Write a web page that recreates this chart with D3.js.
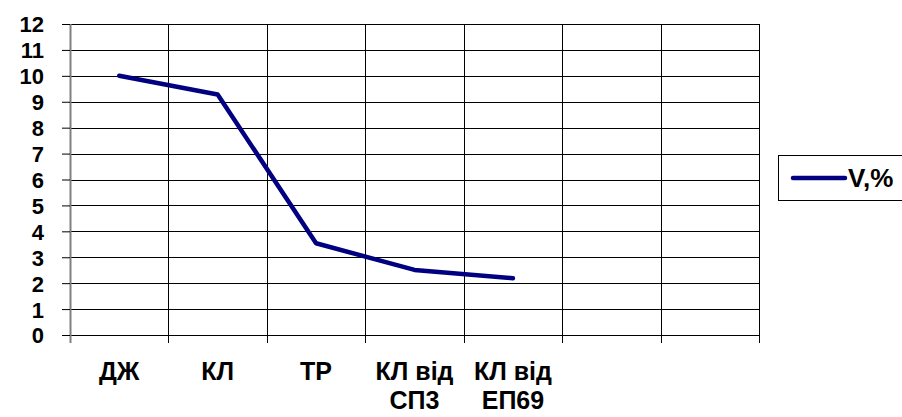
<!DOCTYPE html>
<html><head><meta charset="utf-8">
<script src="https://cdn.jsdelivr.net/npm/d3@7"></script>
<style>html,body{margin:0;padding:0;background:#fff;}svg{display:block;}</style>
</head><body>
<svg id="c" width="902" height="417"></svg>
<script>
const categories = ["ДЖ", "КЛ", "ТР", "КЛ від|СП3", "КЛ від|ЕП69", "_e1", "_e2"];
const values = [10, 9.28, 3.54, 2.51, 2.19];
const yTicks = [0,1,2,3,4,5,6,7,8,9,10,11,12];
const seriesName = "V,%";

const svg = d3.select("#c");
const L = 70, R = 759, T = 24, B = 335;
const font = "'Liberation Sans', Arial, sans-serif";

const x = d3.scaleBand().domain(categories).range([L, R]).padding(0);
const y = d3.scaleLinear().domain([0, 12]).range([B, T]);

// horizontal gridlines
svg.append("g").selectAll("line").data(yTicks).join("line")
  .attr("x1", L).attr("x2", R)
  .attr("y1", d => Math.round(y(d)) + 0.5).attr("y2", d => Math.round(y(d)) + 0.5)
  .attr("stroke", "#000").attr("stroke-width", 1);

// vertical gridlines at category boundaries
const bounds = categories.map(c => x(c)).concat([R]);
svg.append("g").selectAll("line").data(bounds.slice(1)).join("line")
  .attr("x1", d => Math.round(d) + 0.5).attr("x2", d => Math.round(d) + 0.5)
  .attr("y1", T).attr("y2", B + 8)
  .attr("stroke", "#000").attr("stroke-width", 1);

// y axis
const yAxis = svg.append("g").attr("transform", `translate(${L},0)`)
  .call(d3.axisLeft(y).tickValues(yTicks).tickSize(8).tickPadding(18).tickFormat(d3.format("d")));
yAxis.select(".domain").attr("stroke", "#808080").attr("stroke-width", 2).attr("d", `M0.5,${T}V${B + 8}`);
yAxis.selectAll(".tick line").attr("stroke", "#000");
yAxis.selectAll(".tick text").attr("font-family", font).attr("font-weight", "bold")
  .attr("font-size", 22).attr("fill", "#000").attr("dy", "0.36em");

// x axis labels
const xAxis = svg.append("g").attr("transform", `translate(0,${B})`)
  .call(d3.axisBottom(x).tickSize(0).tickFormat(""));
xAxis.select(".domain").remove();
xAxis.selectAll(".tick").each(function(d) {
  if (d.startsWith("_")) return;
  const t = d3.select(this).append("text")
    .attr("font-family", font).attr("font-weight", "bold").attr("font-size", 25)
    .attr("fill", "#000").attr("text-anchor", "middle");
  d.split("|").forEach((line, i) => {
    t.append("tspan").attr("x", 0).attr("y", 45 + i * 29).text(line);
  });
});

// line
const line = d3.line().x((d, i) => x(categories[i]) + x.bandwidth() / 2).y(d => y(d));
svg.append("path").datum(values).attr("d", line)
  .attr("fill", "none").attr("stroke", "#000080").attr("stroke-width", 4.5)
  .attr("stroke-linejoin", "round").attr("stroke-linecap", "round");

// legend
const lg = svg.append("g");
lg.append("rect").attr("x", 778.5).attr("y", 155.5).attr("width", 130).attr("height", 45)
  .attr("fill", "#fff").attr("stroke", "#000").attr("stroke-width", 1);
lg.append("line").attr("x1", 793).attr("x2", 845).attr("y1", 178).attr("y2", 178)
  .attr("stroke", "#000080").attr("stroke-width", 4.5).attr("stroke-linecap", "round");
lg.append("text").attr("x", 848).attr("y", 187).attr("font-family", font)
  .attr("font-weight", "bold").attr("font-size", 26).attr("fill", "#000").text(seriesName);
</script>
</body></html>
